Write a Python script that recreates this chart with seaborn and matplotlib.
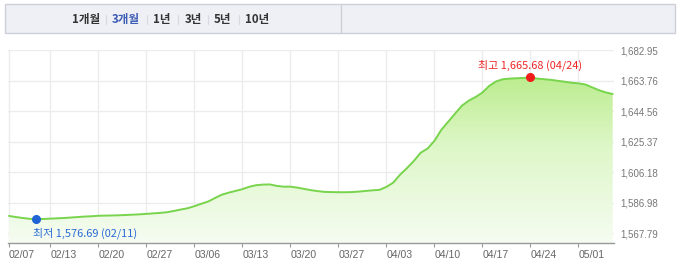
import numpy as np
import pandas as pd
import matplotlib
matplotlib.use("Agg")
import matplotlib.pyplot as plt
import matplotlib.dates as mdates
from matplotlib.patches import Polygon, Rectangle
from matplotlib.colors import LinearSegmentedColormap
import seaborn as sns

# ---------------- data ----------------
start_date = "2023-02-07"
values = [
    1578.7, 1578.0, 1577.4, 1576.9, 1576.69, 1576.8, 1577.0, 1577.2, 1577.4, 1577.7,
    1578.0, 1578.3, 1578.5, 1578.8, 1578.9, 1579.0, 1579.1, 1579.3, 1579.5, 1579.7,
    1580.0, 1580.3, 1580.6, 1581.0, 1581.8, 1582.7, 1583.5, 1584.8, 1586.3, 1587.7,
    1589.9, 1592.0, 1593.3, 1594.4, 1595.5, 1597.0, 1598.0, 1598.4, 1598.5, 1597.6,
    1597.1, 1597.1, 1596.5, 1595.7, 1594.9, 1594.3, 1593.8, 1593.7, 1593.6, 1593.6,
    1593.7, 1594.0, 1594.4, 1594.8, 1595.1, 1596.9, 1599.6, 1604.6, 1608.7, 1613.2,
    1618.4, 1621.0, 1625.8, 1632.7, 1637.8, 1642.9, 1647.9, 1651.1, 1653.4, 1656.2,
    1660.4, 1663.2, 1664.6, 1665.0, 1665.2, 1665.4, 1665.68, 1665.0, 1664.6, 1664.2,
    1663.6, 1663.0, 1662.4, 1662.0, 1661.3, 1659.5, 1657.7, 1656.3, 1655.3,
]
y_ticks = [1567.79, 1586.98, 1606.18, 1625.37, 1644.56, 1663.76, 1682.95]
x_tick_dates = ["2023-02-07", "2023-02-13", "2023-02-20", "2023-02-27", "2023-03-06",
                "2023-03-13", "2023-03-20", "2023-03-27", "2023-04-03", "2023-04-10",
                "2023-04-17", "2023-04-24", "2023-05-01"]
x_tick_labels = ["02/07", "02/13", "02/20", "02/27", "03/06", "03/13", "03/20",
                 "03/27", "04/03", "04/10", "04/17", "04/24", "05/01"]
tabs = ["1개월", "3개월", "1년", "3년", "5년", "10년"]
active_tab = "3개월"
low_date, low_value = "2023-02-11", 1576.69
high_date, high_value = "2023-04-24", 1665.68

# ---------------- style ----------------
sns.set_theme(style="white")
plt.rcParams['font.family'] = ['Noto Sans CJK KR', 'DejaVu Sans']

W, H = 680, 269
fig = plt.figure(figsize=(W / 100, H / 100), dpi=100)
fig.patch.set_facecolor("white")

# overlay in pixel coordinates for the tab bar
ov = fig.add_axes([0, 0, 1, 1])
ov.set_xlim(0, W)
ov.set_ylim(H, 0)
ov.axis("off")
ov.patch.set_alpha(0)
ov.add_patch(Rectangle((5, 4), 670, 29, facecolor="#eef0f5", edgecolor="#cdd0d8", lw=1))
ov.plot([341, 341], [4, 33], color="#cdd0d8", lw=1)
tab_x = [86, 126, 162, 193, 222, 257]
sep_x = [106, 147, 178, 208, 239]
for t, x in zip(tabs, tab_x):
    ov.text(x, 19, t, ha="center", va="center", fontsize=8.3, fontweight="bold",
            color="#3d5cb5" if t == active_tab else "#333333")
for x in sep_x:
    ov.plot([x, x], [15, 24], color="#d6d9df", lw=0.8)

# main axes
x0, x1, yb, yt = 8, 614, 243, 50
ax = fig.add_axes([x0 / W, (H - yb) / H, (x1 - x0) / W, (yb - yt) / H])
ax.set_facecolor("white")

dates = pd.date_range(start_date, periods=len(values), freq="D")
df = pd.DataFrame({"date": dates, "value": values})

xnum = mdates.date2num(dates.to_pydatetime())
ylo = 1561.7
yhi = 1682.95
xmin = mdates.date2num(pd.Timestamp(x_tick_dates[0])) - 0.15
xmax = xmin + (x1 - x0) / 6.86

# gradient fill clipped to the area under the curve
cmap = LinearSegmentedColormap.from_list("g", ["#f6fcf2", "#def7c8", "#aee97a"])
grad = np.linspace(0, 1, 256).reshape(-1, 1)
im = ax.imshow(grad, extent=[xmin, xmax, ylo, yhi], origin="lower", aspect="auto",
               cmap=cmap, zorder=1)
verts = list(zip(xnum, values)) + [(xnum[-1], ylo), (xnum[0], ylo)]
poly = Polygon(verts, closed=True, facecolor="none", edgecolor="none",
               transform=ax.transData)
ax.add_patch(poly)
im.set_clip_path(poly)

sns.lineplot(data=df, x="date", y="value", ax=ax, color="#78d44c", lw=1.4, zorder=3)

ax.set_xlim(xmin, xmax)
ax.set_ylim(ylo, yhi)

# grid
for yv in y_ticks:
    ax.axhline(yv, color="#ececec", lw=1, zorder=0.5)
tick_nums = [mdates.date2num(pd.Timestamp(d)) for d in x_tick_dates]
for xv in tick_nums:
    ax.axvline(xv, color="#ececec", lw=1, zorder=0.5)

ax.set_xticks(tick_nums)
ax.set_xticklabels(x_tick_labels, ha="left")
ax.set_yticks(y_ticks)
ax.set_yticklabels([f"{v:,.2f}" for v in y_ticks])
ax.yaxis.tick_right()
ax.tick_params(axis="y", length=0, pad=4.5, labelsize=7.0, labelcolor="#777777")
ax.tick_params(axis="x", length=3, width=0.8, color="#999999", pad=2,
               labelsize=7.6, labelcolor="#666666", bottom=True)
for lab in ax.get_xticklabels() + ax.get_yticklabels():
    lab.set_family(["Liberation Sans", "DejaVu Sans"])
ax.set_xlabel("")
ax.set_ylabel("")
for s in ["top", "left", "right"]:
    ax.spines[s].set_visible(False)
ax.spines["bottom"].set_color("#999999")
ax.spines["bottom"].set_linewidth(1)

# low / high markers and labels
ld = pd.Timestamp(low_date)
hd = pd.Timestamp(high_date)
ax.plot([ld], [low_value], "o", color="#1f63d4", ms=5.5, zorder=5, clip_on=False)
ax.plot([hd], [high_value], "o", color="#f01c1c", ms=5.5, zorder=5, clip_on=False)
ax.annotate(f"최저 {low_value:,.2f} ({ld:%m/%d})", (ld, low_value),
            xytext=(-2.3, -10), textcoords="offset points", ha="left", va="center",
            fontsize=7.9, color="#2a6bd6", zorder=6)
ax.annotate(f"최고 {high_value:,.2f} ({hd:%m/%d})", (hd, high_value),
            xytext=(0, 9), textcoords="offset points", ha="center", va="center",
            fontsize=7.9, color="#ee2525", zorder=6)

fig.savefig("out.png", dpi=100, facecolor="white")
